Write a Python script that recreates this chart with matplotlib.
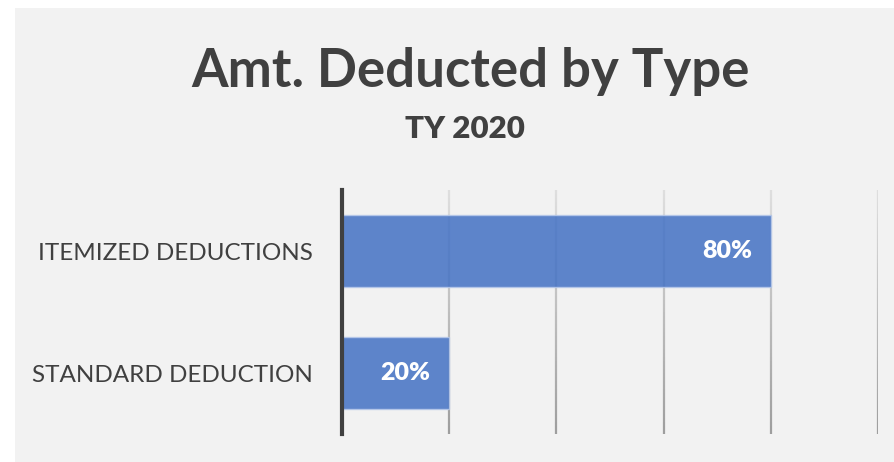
import numpy as np
import matplotlib
matplotlib.use('Agg')
import matplotlib.pyplot as plt
from matplotlib.patches import Rectangle
from matplotlib.collections import LineCollection
from matplotlib.colors import to_rgb

# data, bottom to top
categories = ['STANDARD DEDUCTION', 'ITEMIZED DEDUCTIONS']
shares = [0.20, 0.80]
grid_ticks = [0.2, 0.4, 0.6, 0.8, 1.0]

title = 'Amt. Deducted by Type'
subtitle = 'TY 2020'

W, H = 894, 462
dark = '#404040'
panel = '#f2f2f2'
bar_color = '#4472c4'

plt.rcParams['font.family'] = ['Lato', 'DejaVu Sans']

fig = plt.figure(figsize=(W / 100, H / 100), dpi=100, facecolor='white')

# grey chart area (white strip at top and left)
fig.patches.append(Rectangle((15 / W, 0), 1 - 15 / W, 1 - 8 / H,
                             transform=fig.transFigure, facecolor=panel,
                             edgecolor='none', zorder=-5))

ax = fig.add_axes([342 / W, (H - 434) / H, (878 - 342) / W, (434 - 190) / H])
ax.set_facecolor('none')
ax.set_zorder(2)
ax.set_xlim(0, 1)
ax.set_ylim(-0.5, 1.5)

# vertical gridlines with a light-to-dark fade
top_c = np.array(to_rgb('#dedede'))
bot_c = np.array(to_rgb('#9e9e9e'))
n = 60
ys = np.linspace(1.5, -0.5, n + 1)
for gx in grid_ticks:
    segs = [[(gx, ys[i]), (gx, ys[i + 1])] for i in range(n)]
    cols = [top_c + (bot_c - top_c) * (i / (n - 1)) for i in range(n)]
    ax.add_collection(LineCollection(segs, colors=cols, linewidths=1.6,
                                     zorder=1, capstyle='butt'))

y = np.arange(len(categories))
bars = ax.barh(y, shares, height=0.59, color=bar_color, alpha=0.86,
               edgecolor='#b7c9ea', linewidth=1.0, zorder=2)

for b, v in zip(bars, shares):
    ax.annotate(f'{v:.0%}', (b.get_width(), b.get_y() + b.get_height() / 2),
                xytext=(-19, 0), textcoords='offset pixels',
                ha='right', va='center', color='white', fontsize=18,
                fontweight='heavy', zorder=3)

ax.set_yticks(y)
ax.set_yticklabels(categories, fontsize=17.5, color=dark)
ax.tick_params(axis='y', length=0, pad=21)
ax.set_xticks([])
for s in ['top', 'right', 'bottom']:
    ax.spines[s].set_visible(False)
ax.spines['left'].set_color(dark)
ax.spines['left'].set_linewidth(3)
ax.spines['left'].set_zorder(4)

fig.text(470 / W, 1 - 72 / H, title, ha='center', va='center',
         fontsize=38, fontweight='bold', color=dark)
fig.text(465 / W, 1 - 129 / H, subtitle, ha='center', va='center',
         fontsize=22.5, fontweight='heavy', color=dark)

fig.savefig('out.png', dpi=100, facecolor='white')
